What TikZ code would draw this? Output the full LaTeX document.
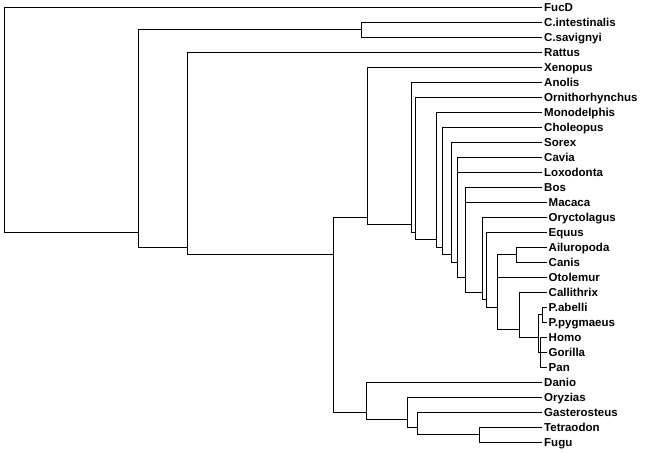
\documentclass[tikz,border=0pt]{standalone}
\usepackage{fontspec}
\setmainfont{Liberation Sans}
\begin{document}
\begin{tikzpicture}[x=1pt,y=-1pt,
  br/.style={line width=1pt, black, line join=miter},
  lab/.style={anchor=west, inner xsep=2pt, inner ysep=0pt, text height=8pt, text depth=0pt,
              font=\fontsize{11.5}{12}\selectfont\bfseries}]
\fill[white] (0,0) rectangle (650,453);
\useasboundingbox (0,0) rectangle (650,453);
% ---- leaves (labels) ----
\node[lab] (FucD) at (542,7) {FucD};
\node[lab] (Cint) at (542,22) {C.intestinalis};
\node[lab] (Csav) at (542,37) {C.savignyi};
\node[lab] (Rattus) at (542,52) {Rattus};
\node[lab] (Xenopus) at (542,67) {Xenopus};
\node[lab] (Anolis) at (542,82) {Anolis};
\node[lab] (Ornith) at (542,97) {Ornithorhynchus};
\node[lab] (Monod) at (542,112) {Monodelphis};
\node[lab] (Chol) at (542,127) {Choleopus};
\node[lab] (Sorex) at (542,142) {Sorex};
\node[lab] (Cavia) at (542,157) {Cavia};
\node[lab] (Loxo) at (542,172) {Loxodonta};
\node[lab] (Bos) at (542,187) {Bos};
\node[lab] (Macaca) at (546.5,202) {Macaca};
\node[lab] (Oryct) at (546.5,217) {Oryctolagus};
\node[lab] (Equus) at (546.5,232) {Equus};
\node[lab] (Ailuro) at (546.5,247) {Ailuropoda};
\node[lab] (Canis) at (546.5,262) {Canis};
\node[lab] (Otol) at (546.5,277) {Otolemur};
\node[lab] (Calli) at (546.5,292) {Callithrix};
\node[lab] (Pabe) at (546.5,307) {P.abelli};
\node[lab] (Ppyg) at (546.5,322) {P.pygmaeus};
\node[lab] (Homo) at (546.5,337) {Homo};
\node[lab] (Gorilla) at (546.5,352) {Gorilla};
\node[lab] (Pan) at (546.5,367) {Pan};
\node[lab] (Danio) at (542,382) {Danio};
\node[lab] (Oryz) at (542,397) {Oryzias};
\node[lab] (Gast) at (542,412) {Gasterosteus};
\node[lab] (Tetra) at (542,427) {Tetraodon};
\node[lab] (Fugu) at (542,442) {Fugu};
% ---- internal nodes ----
\coordinate (root) at (4,224.5);
\coordinate (n1) at (138,232);
\coordinate (ciona) at (361,29.5);
\coordinate (n2) at (187,247);
\coordinate (n3) at (333,254.5);
\coordinate (n4) at (367,217);
\coordinate (n5) at (411.7,224.5);
\coordinate (n6) at (415.5,232);
\coordinate (n7) at (436.5,239.5);
\coordinate (n8) at (442,247);
\coordinate (n9) at (451,254.5);
\coordinate (n10) at (457.5,262);
\coordinate (n11) at (465,277);
\coordinate (n12) at (482.5,292);
\coordinate (n13) at (486.7,299.5);
\coordinate (n14) at (497,307);
\coordinate (ailcan) at (516.7,254.5);
\coordinate (n15) at (519,329.5);
\coordinate (n16) at (538.5,337);
\coordinate (pongo) at (542.7,314.5);
\coordinate (hgp) at (540,352);
\coordinate (fish) at (366.7,412);
\coordinate (fa) at (407.5,419.5);
\coordinate (fb) at (417.5,427);
\coordinate (fc) at (479.3,434.5);
% ---- branches ----
\draw[br] (root) |- (FucD.west);
\draw[br] (root) |- (n1);
\draw[br] (n1) |- (ciona);
\draw[br] (n1) |- (n2);
\draw[br] (ciona) |- (Cint.west);
\draw[br] (ciona) |- (Csav.west);
\draw[br] (n2) |- (Rattus.west);
\draw[br] (n2) |- (n3);
\draw[br] (n3) |- (n4);
\draw[br] (n3) |- (fish);
\draw[br] (n4) |- (Xenopus.west);
\draw[br] (n4) |- (n5);
\draw[br] (n5) |- (Anolis.west);
\draw[br] (n5) |- (n6);
\draw[br] (n6) |- (Ornith.west);
\draw[br] (n6) |- (n7);
\draw[br] (n7) |- (Monod.west);
\draw[br] (n7) |- (n8);
\draw[br] (n8) |- (Chol.west);
\draw[br] (n8) |- (n9);
\draw[br] (n9) |- (Sorex.west);
\draw[br] (n9) |- (n10);
\draw[br] (n10) |- (Cavia.west);
\draw[br] (n10) |- (Loxo.west);
\draw[br] (n10) |- (n11);
\draw[br] (n11) |- (Bos.west);
\draw[br] (n11) |- (Macaca.west);
\draw[br] (n11) |- (n12);
\draw[br] (n12) |- (Oryct.west);
\draw[br] (n12) |- (n13);
\draw[br] (n13) |- (Equus.west);
\draw[br] (n13) |- (n14);
\draw[br] (n14) |- (ailcan);
\draw[br] (n14) |- (Otol.west);
\draw[br] (n14) |- (n15);
\draw[br] (ailcan) |- (Ailuro.west);
\draw[br] (ailcan) |- (Canis.west);
\draw[br] (n15) |- (Calli.west);
\draw[br] (n15) |- (n16);
\draw[br] (n16) |- (pongo);
\draw[br] (n16) |- (hgp);
\draw[br] (pongo) |- (Pabe.west);
\draw[br] (pongo) |- (Ppyg.west);
\draw[br] (hgp) |- (Homo.west);
\draw[br] (hgp) |- (Gorilla.west);
\draw[br] (hgp) |- (Pan.west);
\draw[br] (fish) |- (Danio.west);
\draw[br] (fish) |- (fa);
\draw[br] (fa) |- (Oryz.west);
\draw[br] (fa) |- (fb);
\draw[br] (fb) |- (Gast.west);
\draw[br] (fb) |- (fc);
\draw[br] (fc) |- (Tetra.west);
\draw[br] (fc) |- (Fugu.west);
\end{tikzpicture}
\end{document}
